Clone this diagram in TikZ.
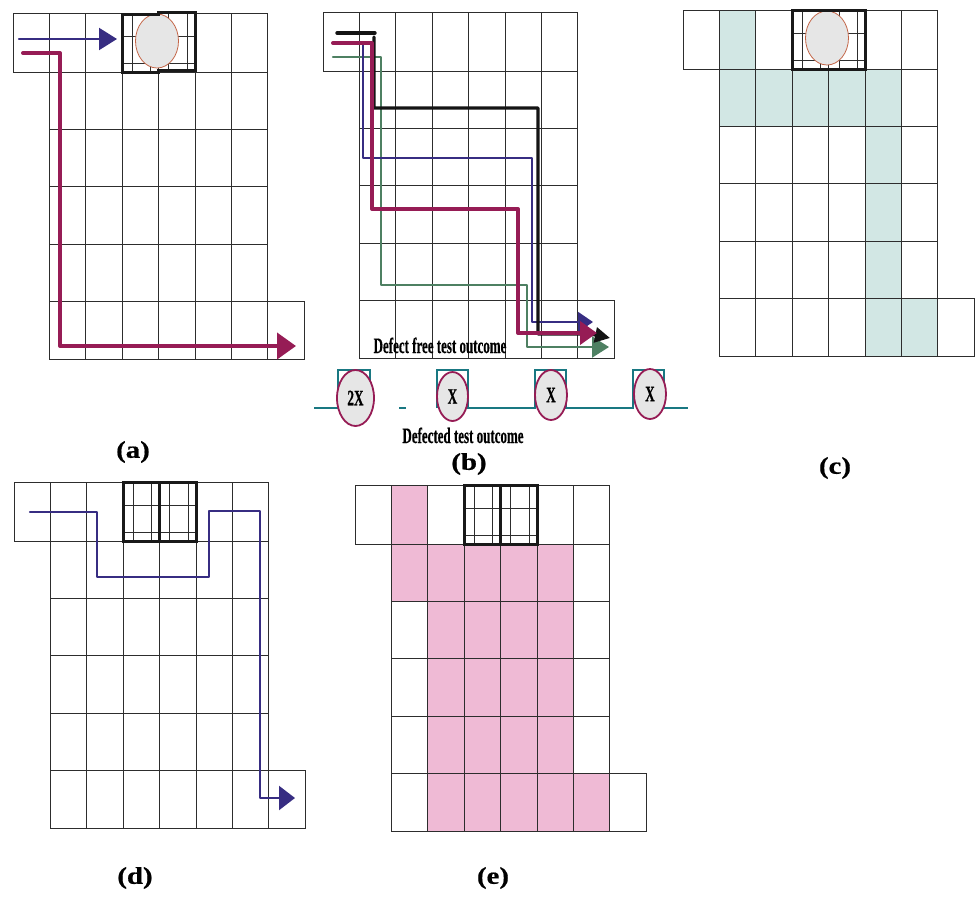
\documentclass[tikz,border=0pt]{standalone}
\usepackage{fontspec}
\setmainfont{Liberation Serif}
\newfontfamily\heavyfont[FakeBold=0.6]{Liberation Serif Bold}
\usetikzlibrary{arrows.meta,shapes.geometric}

\definecolor{gridcol}{RGB}{45,45,45}
\definecolor{pathblue}{RGB}{55,45,130}
\definecolor{pathred}{RGB}{150,28,85}
\definecolor{pathgreen}{RGB}{78,128,98}
\definecolor{wavecol}{RGB}{25,120,130}
\definecolor{defectfill}{RGB}{230,230,230}
\definecolor{defectedge}{RGB}{195,100,70}
\definecolor{tealcell}{RGB}{210,231,228}
\definecolor{pinkcell}{RGB}{239,186,213}

% cell sizes of one die layout
\newcommand{\cellw}{36.4}
\newcommand{\toph}{59}
\newcommand{\rowh}{57.4}

% outline of the layout: 7 cells on top, 5 rows of 6 cells, one extra cell bottom right
\newcommand{\dieGrid}{%
  \foreach \i in {0,...,6} {\draw[gridline] (\i*\cellw,0) rectangle ++(\cellw,\toph);}
  \foreach \r in {0,...,4} {\foreach \i in {1,...,6} {%
    \draw[gridline] (\i*\cellw,\toph+\r*\rowh) rectangle ++(\cellw,\rowh);}}
  \draw[gridline] (7*\cellw,\toph+4*\rowh) rectangle ++(\cellw,\rowh);
}
% fine subdivision of the two cells under test
\newcommand{\fineGrid}{%
  \foreach \c in {3,4} {%
    \draw[fineline] ({(\c+0.28)*\cellw},0) -- ++(0,\toph);
    \draw[fineline] ({(\c+0.78)*\cellw},0) -- ++(0,\toph);
  }
  \draw[fineline] (3*\cellw,0.4*\toph) -- (5*\cellw,0.4*\toph);
  \draw[fineline] (3*\cellw,0.85*\toph) -- (5*\cellw,0.85*\toph);
}
\newcommand{\plabel}[1]{\scalebox{1.2}[1]{#1}}
\newcommand{\narrow}[1]{\scalebox{0.59}[1]{#1}}

\tikzset{
  gridline/.style={draw=gridcol, line width=0.9pt},
  fineline/.style={draw=gridcol, line width=0.6pt},
  thickbox/.style={draw=black!90, line width=3pt},
  defect/.style={ellipse, draw=defectedge, line width=0.8pt, fill=defectfill,
    minimum width=43pt, minimum height=54pt, inner sep=0pt},
  pulsedefect/.style={ellipse, draw=pathred, line width=1.8pt, fill=defectfill,
    inner sep=0pt, font=\heavyfont\fontsize{22}{26}\selectfont},
  route/.style={line cap=round, line join=round},
  bluepath/.style={route, draw=pathblue, line width=2.2pt},
  redpath/.style={route, draw=pathred, line width=4pt},
  greenpath/.style={route, draw=pathgreen, line width=2.4pt},
  blackpath/.style={route, draw=black!92, line width=3.4pt},
  wave/.style={draw=wavecol, line width=1.6pt},
  panellabel/.style={font=\heavyfont\fontsize{24}{28}\selectfont, inner sep=0pt},
  caption/.style={font=\heavyfont\fontsize{22}{26}\selectfont, inner sep=0pt, anchor=base},
}

\begin{document}
\begin{tikzpicture}[x=1pt, y=-1pt]
\useasboundingbox (0,0) rectangle (975,897);

% ---------------- (a) single path past the defect
\begin{scope}[shift={(13,13)}]
  \dieGrid
  \fineGrid
  \node[defect] (aDefect) at (144,28) {};
  \draw[thickbox] (3*\cellw,1) -- (3*\cellw,\toph) -- (4*\cellw,\toph)
    -- (4*\cellw,\toph-2) -- (5*\cellw,\toph-2) -- (5*\cellw,-1)
    -- (4*\cellw,-1) -- (4*\cellw,1) -- cycle;
  \coordinate (aBlueS) at (6,26);
  \coordinate (aBlueE) at (104,26);
  \draw[bluepath, -{Triangle[length=18pt,width=22pt]}] (aBlueS) -- (aBlueE);
  \coordinate (aRedS) at (10,40);
  \coordinate (aRedE) at (283,333);
  \draw[redpath, -{Triangle[length=19pt,width=26pt]}]
    (aRedS) -- (47,40) -- (47,333) -- (aRedE);
\end{scope}
\node[panellabel] (labA) at (133,452) {\plabel{(a)}};

% ---------------- (b) several test paths and their outcomes
\begin{scope}[shift={(323,12)}]
  \dieGrid
  \coordinate (bGreenS) at (10,45);
  \coordinate (bGreenE) at (286,335);
  \draw[greenpath, -{Triangle[length=17pt,width=21pt]}]
    (bGreenS) -- (58,45) -- (58,273) -- (204,273) -- (204,335) -- (bGreenE);
  \coordinate (bBlueS) at (10,31);
  \coordinate (bBlueE) at (270,310);
  \draw[bluepath, line width=2pt, -{Triangle[length=15pt,width=20pt]}]
    (bBlueS) -- (40,31) -- (40,146) -- (209,146) -- (209,310) -- (bBlueE);
  \coordinate (bBlackA) at (14,21);
  \coordinate (bBlackB) at (52,21);
  \draw[blackpath] (bBlackA) -- (bBlackB);
  \coordinate (bBlackS) at (51,25);
  \coordinate (bBlackE) at (287,326);
  \draw[blackpath, -{Triangle[length=15pt,width=15pt]}]
    (bBlackS) -- (51,96) -- (215,96) -- (215,322) -- (268,322) -- (bBlackE);
  \coordinate (bRedS) at (10,31);
  \coordinate (bRedE) at (274,321);
  \draw[redpath, -{Triangle[length=17pt,width=23pt]}]
    (bRedS) -- (49,31) -- (49,197) -- (195,197) -- (195,321) -- (bRedE);
\end{scope}
\node[caption] (freeTxt) at (440,353) {\narrow{Defect free test outcome}};

% test response waveform
\coordinate (wStart) at (314,408);
\coordinate (wEnd) at (688,408);
\draw[wave] (wStart) -- (338,408) -- (338,370) -- (370,370) -- (370,408);
\draw[wave] (399,408) -- (406,408);
\draw[wave] (437,408) -- (437,370) -- (468,370) -- (468,408) -- (535,408)
  -- (535,370) -- (566,370) -- (566,408) -- (633,408) -- (633,370)
  -- (664,370) -- (664,408) -- (wEnd);
\node[pulsedefect, minimum width=37pt, minimum height=56pt] (p1) at (355.5,398) {\scalebox{0.6}[1]{2X}};
\node[pulsedefect, minimum width=31pt, minimum height=49pt] (p2) at (452.5,396.5) {\scalebox{0.6}[1]{X}};
\node[pulsedefect, minimum width=32pt, minimum height=50pt] (p3) at (551,395) {\scalebox{0.6}[1]{X}};
\node[pulsedefect, minimum width=32pt, minimum height=50pt] (p4) at (650,394) {\scalebox{0.6}[1]{X}};
\node[caption] (defTxt) at (463,443) {\narrow{Defected test outcome}};
\node[panellabel] (labB) at (469,464) {\plabel{(b)}};

% ---------------- (c) cells covered by the test
\begin{scope}[shift={(683,10)}]
  \fill[tealcell] (\cellw,0) rectangle (2*\cellw,\toph);
  \fill[tealcell] (\cellw,\toph) rectangle (6*\cellw,\toph+\rowh);
  \fill[tealcell] (5*\cellw,\toph+\rowh) rectangle (6*\cellw,\toph+5*\rowh);
  \fill[tealcell] (6*\cellw,\toph+4*\rowh) rectangle (7*\cellw,\toph+5*\rowh);
  \dieGrid
  \fineGrid
  \node[defect] (cDefect) at (144,28) {};
  \draw[thickbox] (3*\cellw,0) rectangle (5*\cellw,\toph);
\end{scope}
\node[panellabel] (labC) at (835,468) {\plabel{(c)}};

% ---------------- (d) path around two cells
\begin{scope}[shift={(14,482)}]
  \dieGrid
  \fineGrid
  \draw[thickbox] (3*\cellw,0) rectangle (4*\cellw,\toph);
  \draw[thickbox] (4*\cellw,0) rectangle (5*\cellw,\toph);
  \coordinate (dBlueS) at (16,30);
  \coordinate (dBlueE) at (281,316);
  \draw[bluepath, -{Triangle[length=16pt,width=24pt]}]
    (dBlueS) -- (83,30) -- (83,95) -- (195,95) -- (195,29) -- (246,29)
    -- (246,316) -- (dBlueE);
\end{scope}
\node[panellabel] (labD) at (135,878) {\plabel{(d)}};

% ---------------- (e) cells covered by the test
\begin{scope}[shift={(355,485)}]
  \fill[pinkcell] (\cellw,0) rectangle (2*\cellw,\toph);
  \fill[pinkcell] (\cellw,\toph) rectangle (6*\cellw,\toph+\rowh);
  \fill[pinkcell] (2*\cellw,\toph) rectangle (6*\cellw,\toph+5*\rowh);
  \fill[pinkcell] (6*\cellw,\toph+4*\rowh) rectangle (7*\cellw,\toph+5*\rowh);
  \dieGrid
  \fineGrid
  \draw[thickbox] (3*\cellw,0) rectangle (4*\cellw,\toph);
  \draw[thickbox] (4*\cellw,0) rectangle (5*\cellw,\toph);
\end{scope}
\node[panellabel] (labE) at (493,878) {\plabel{(e)}};

\end{tikzpicture}
\end{document}
